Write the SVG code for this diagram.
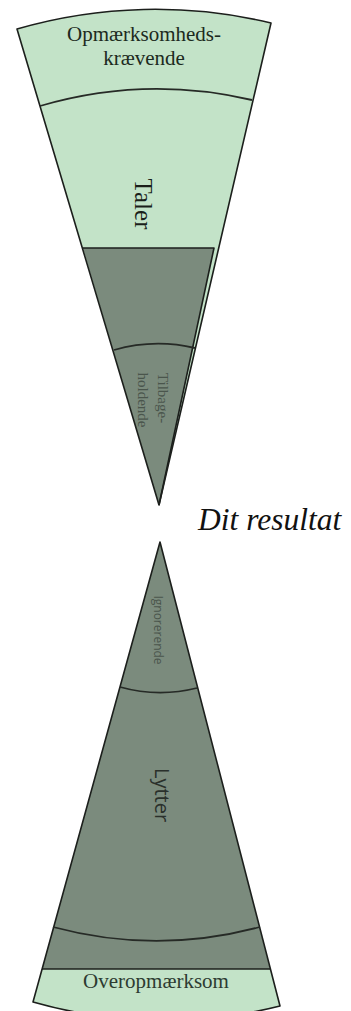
<svg xmlns="http://www.w3.org/2000/svg" width="351" height="1011" viewBox="0 0 351 1011">
<style>
.light{fill:#c3e3c8;}
.dark{fill:#7b8b7d;}
.edge{fill:none;stroke:#1c1f1c;stroke-width:1.6;stroke-linejoin:round;}
.arc{fill:none;stroke:#262a26;stroke-width:1.8;}
.serif{font-family:"Liberation Serif","Times New Roman",serif;}
.sans{font-family:"Open Sans","Noto Sans",sans-serif;}
</style>
<rect width="351" height="1011" fill="#ffffff"/>
<g id="top-wedge">
  <path class="light" d="M17,29 A496,496 0 0 1 271,23 L159,505 Z"/>
  <path class="dark" d="M83,248 L214,248 L159,505 Z"/>
  <path class="edge" d="M83,248 L214,248 L159,505"/>
  <path class="edge" d="M17,29 A496,496 0 0 1 271,23 L159,505 Z"/>
  <path class="arc" d="M40,106 A416,416 0 0 1 252,100"/>
  <path class="arc" d="M114,350 A161,161 0 0 1 195,348"/>
</g>
<g id="node-opmaerksomhedskraevende">
  <text class="serif" x="144" y="41" font-size="21" text-anchor="middle" fill="#1c2a20">Opmærksomheds-</text>
  <text class="serif" x="144" y="65" font-size="21" text-anchor="middle" fill="#1c2a20">krævende</text>
</g>
<g id="node-taler">
  <text class="serif" transform="translate(135,204) rotate(90)" font-size="25" text-anchor="middle" fill="#1a1f1a">Taler</text>
</g>
<g id="node-tilbageholdende">
  <text class="serif" transform="translate(158,398) rotate(90)" font-size="15" text-anchor="middle" fill="#4a554c">Tilbage-</text>
  <text class="serif" transform="translate(138,400) rotate(90)" font-size="15" text-anchor="middle" fill="#4a554c">holdende</text>
</g>
<g id="label-dit-resultat">
  <text class="serif" x="198" y="530" font-size="31.5" font-style="italic" fill="#111111">Dit resultat</text>
</g>
<g id="bottom-wedge">
  <path class="light" d="M160,542 L33,1002 A478,478 0 0 0 280,1006 Z"/>
  <path class="dark" d="M160,542 L42,969 L270,969 Z"/>
  <path class="edge" d="M42,969 L270,969"/>
  <path class="edge" d="M160,542 L33,1002 A478,478 0 0 0 280,1006 Z"/>
  <path class="arc" d="M120,687 A150,150 0 0 0 197,688"/>
  <path class="arc" d="M53,927 A399,399 0 0 0 260,927"/>
</g>
<g id="node-ignorerende">
  <text class="sans" transform="translate(154,630) rotate(90)" font-size="12" text-anchor="middle" fill="#4a554c">Ignorerende</text>
</g>
<g id="node-lytter">
  <text class="sans" transform="translate(155,795) rotate(90)" font-size="20" text-anchor="middle" fill="#2a302b">Lytter</text>
</g>
<g id="node-overopmaerksom">
  <text class="serif" x="156" y="988" font-size="21" text-anchor="middle" fill="#2d3b31">Overopmærksom</text>
</g>
<g id="connectors"></g>
</svg>
